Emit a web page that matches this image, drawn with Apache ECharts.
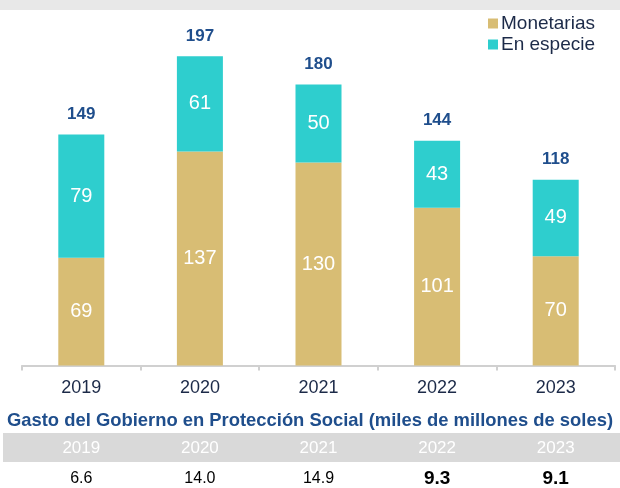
<!DOCTYPE html>
<html>
<head>
<meta charset="utf-8">
<script src="https://cdn.jsdelivr.net/npm/echarts@6/dist/echarts.min.js"></script>
<style>
  html, body { margin: 0; padding: 0; background: #fff; }
  #chart { width: 620px; height: 488px; }
</style>
</head>
<body>
<div id="chart"></div>
<script>
// datos
var years = ['2019', '2020', '2021', '2022', '2023'];
var monetarias = [69, 137, 130, 101, 70];
var enEspecie = [79, 61, 50, 43, 49];
var totals = [149, 197, 180, 144, 118];
var gastoValues = ['6.6', '14.0', '14.9', '9.3', '9.1'];
var gastoBold = [false, false, false, true, true];

var FONT = '"Liberation Sans", Arial, sans-serif';

var chart = echarts.init(document.getElementById('chart'));

chart.setOption({
  animation: false,
  textStyle: { fontFamily: FONT },
  title: {
    text: 'Gasto del Gobierno en Protección Social (miles de millones de soles)',
    left: 'center',
    top: 407,
    textStyle: { fontFamily: FONT, fontSize: 18.4, fontWeight: 'bold', color: '#1f4e8c' }
  },
  legend: {
    data: ['Monetarias', 'En especie'],
    orient: 'vertical',
    right: 20,
    top: 9,
    icon: 'rect',
    itemWidth: 10,
    itemHeight: 10,
    itemGap: 2,
    textStyle: { fontFamily: FONT, fontSize: 19, color: '#1c2a48', padding: [0, 0, 0, -2] }
  },
  graphic: [
    { type: 'rect', shape: { x: 0, y: 0, width: 620, height: 10 }, style: { fill: '#e8e8e8' }, silent: true },
    { type: 'rect', shape: { x: 3, y: 433, width: 617, height: 29 }, style: { fill: '#d9d9d9' }, silent: true, z: -1 }
  ],
  grid: { left: 22, right: 5, top: 22, bottom: 121 },
  xAxis: [
    {
      type: 'category',
      data: years,
      axisLine: { lineStyle: { color: '#d0d0d0', width: 2 } },
      axisTick: { show: true, length: 5, lineStyle: { color: '#d0d0d0', width: 2 } },
      axisLabel: { fontSize: 18, color: '#1c2a48', margin: 14 }
    },
    {
      type: 'category',
      data: years,
      position: 'bottom',
      offset: 74,
      axisLine: { show: false },
      axisTick: { show: false },
      axisLabel: { fontSize: 17, color: '#ffffff', margin: 0 }
    },
    {
      type: 'category',
      data: gastoValues,
      position: 'bottom',
      offset: 103,
      axisLine: { show: false },
      axisTick: { show: false },
      axisLabel: {
        margin: 0,
        formatter: function (val, idx) {
          return gastoBold[idx] ? '{b|' + val + '}' : '{n|' + val + '}';
        },
        rich: {
          n: { fontSize: 16, color: '#000000', fontFamily: FONT, height: 20 },
          b: { fontSize: 19, fontWeight: 'bold', color: '#000000', fontFamily: FONT, height: 20 }
        }
      }
    }
  ],
  yAxis: {
    type: 'value',
    min: 0,
    max: 220,
    show: false,
    splitLine: { show: false }
  },
  series: [
    {
      name: 'Monetarias',
      type: 'bar',
      stack: 'gasto',
      barWidth: 46,
      data: monetarias,
      itemStyle: { color: '#d8bd74' },
      label: { show: true, position: 'inside', color: '#ffffff', fontSize: 20 }
    },
    {
      name: 'En especie',
      type: 'bar',
      stack: 'gasto',
      barWidth: 46,
      data: enEspecie,
      itemStyle: { color: '#2ecece' },
      label: { show: true, position: 'inside', color: '#ffffff', fontSize: 20 }
    },
    {
      name: 'Total',
      type: 'bar',
      stack: 'gasto',
      barWidth: 46,
      data: years.map(function () { return 0; }),
      itemStyle: { color: 'transparent' },
      label: {
        show: true,
        position: 'top',
        distance: 12,
        fontSize: 17,
        fontWeight: 'bold',
        color: '#1f4e8c',
        formatter: function (p) { return totals[p.dataIndex]; }
      }
    }
  ]
});
</script>
</body>
</html>
